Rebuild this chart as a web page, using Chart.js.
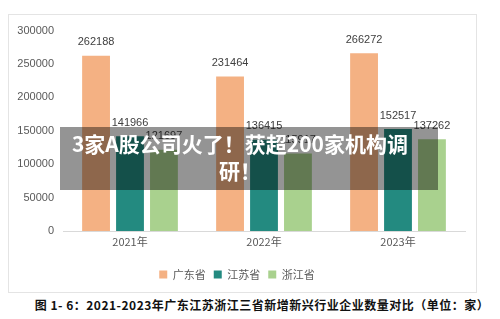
<!DOCTYPE html>
<html>
<head>
<meta charset="utf-8">
<script src="https://cdn.jsdelivr.net/npm/chart.js@4"></script>
<style>
  body { margin: 0; background: #fff; }
  #wrap { position: relative; width: 500px; height: 319px; overflow: hidden; }
  #box { position: absolute; left: 8px; top: 14px; width: 467px; height: 277px; border: 1px solid #e4e4e4; }
  #box canvas { display: block; }
  #banner {
    position: absolute; left: 60px; top: 127px; width: 378px; height: 63px;
    background: rgba(0,0,0,0.42); color: #fff; text-align: center;
    font: bold 21px "Noto Sans CJK SC", sans-serif; line-height: 27px; padding: 3px 18px 0 0; box-sizing: border-box;
    white-space: nowrap;
  }
  #caption {
    position: absolute; left: 0; width: 500px; top: 296px; text-align: center; padding-left: 24px; box-sizing: border-box;
    font: bold 12px "Noto Sans CJK SC", sans-serif; color: #111; letter-spacing: 0.5px;
  }
</style>
</head>
<body>
<div id="wrap">
  <div id="box"><canvas id="c" width="467" height="277"></canvas></div>
  <div id="banner">3家A股公司火了！获超200家机构调<br>研！</div>
  <div id="caption">图 1- 6：2021-2023年广东江苏浙江三省新增新兴行业企业数量对比（单位：家）</div>
</div>
<script>
// 数据
const years = ["2021年", "2022年", "2023年"];
const guangdong = [262188, 231464, 266272];
const jiangsu = [141966, 136415, 152517];
const zhejiang = [121697, 115917, 137262];

// 柱顶数值标签
const valueLabels = {
  id: "valueLabels",
  afterDatasetsDraw(chart) {
    const ctx = chart.ctx;
    ctx.save();
    ctx.font = '11px "Liberation Sans", Arial, sans-serif';
    ctx.fillStyle = "#404040";
    ctx.textAlign = "center";
    ctx.textBaseline = "bottom";
    chart.data.datasets.forEach((ds, i) => {
      chart.getDatasetMeta(i).data.forEach((bar, j) => {
        ctx.fillText(ds.data[j], bar.x, bar.y - 8);
      });
    });
    ctx.restore();
  }
};

new Chart(document.getElementById("c"), {
  type: "bar",
  data: {
    labels: years,
    datasets: [
      { label: "广东省", data: guangdong, backgroundColor: "#F4B183" },
      { label: "江苏省", data: jiangsu, backgroundColor: "#238A80" },
      { label: "浙江省", data: zhejiang, backgroundColor: "#A9D18E" }
    ]
  },
  options: {
    responsive: false,
    animation: false,
    categoryPercentage: 0.76,
    barPercentage: 0.82,
    layout: { padding: { top: 13, right: 11, left: 0, bottom: 2 } },
    plugins: {
      legend: {
        position: "bottom",
        labels: {
          boxWidth: 8, boxHeight: 8, padding: 8, color: "#595959",
          font: { size: 11, family: '"Noto Sans CJK SC", sans-serif' }
        }
      },
      tooltip: { enabled: false }
    },
    scales: {
      y: {
        min: 0, max: 300000,
        afterFit: (s) => { s.width = 54; },
        ticks: {
          stepSize: 50000, padding: 9, color: "#595959",
          font: { size: 11, family: '"Liberation Sans", Arial, sans-serif' },
          callback: (v) => String(v)
        },
        grid: { display: false, drawTicks: false },
        border: { display: false }
      },
      x: {
        afterFit: (s) => { s.height = 30; },
        ticks: { color: "#595959", padding: 4, font: { size: 11, family: '"Noto Sans CJK SC", sans-serif' } },
        grid: { display: false, drawTicks: false },
        border: { color: "#d9d9d9" }
      }
    }
  },
  plugins: [valueLabels]
});
</script>
</body>
</html>
